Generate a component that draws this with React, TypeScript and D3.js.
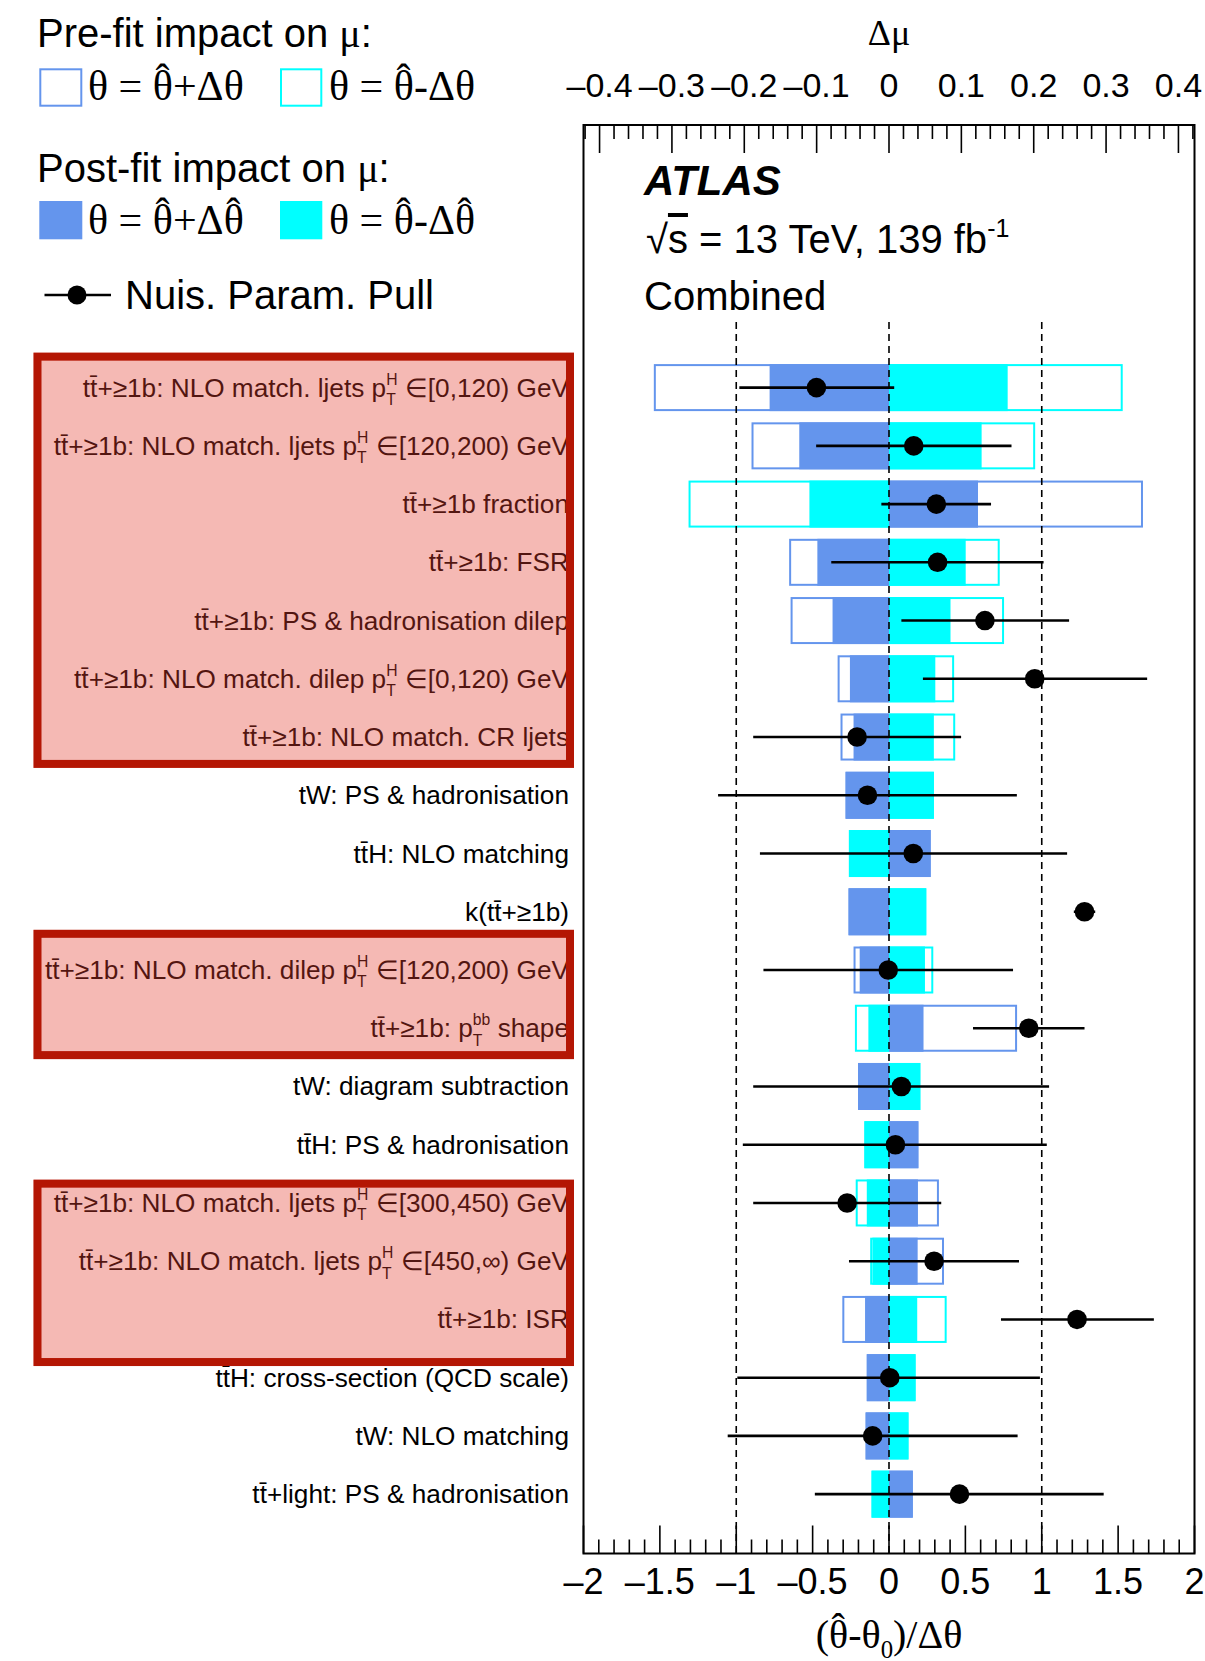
import React from "react";
import * as d3 from "d3";

// ---------------- DATA ----------------
const TT = "tt\u0304";
const params: string[] = [
  `${TT}+≥1b: NLO match. ljets p_{T}^{H} ∈[0,120) GeV`,
  `${TT}+≥1b: NLO match. ljets p_{T}^{H} ∈[120,200) GeV`,
  `${TT}+≥1b fraction`,
  `${TT}+≥1b: FSR`,
  `${TT}+≥1b: PS & hadronisation dilep`,
  `${TT}+≥1b: NLO match. dilep p_{T}^{H} ∈[0,120) GeV`,
  `${TT}+≥1b: NLO match. CR ljets`,
  `tW: PS & hadronisation`,
  `${TT}H: NLO matching`,
  `k(${TT}+≥1b)`,
  `${TT}+≥1b: NLO match. dilep p_{T}^{H} ∈[120,200) GeV`,
  `${TT}+≥1b: p_{T}^{bb} shape`,
  `tW: diagram subtraction`,
  `${TT}H: PS & hadronisation`,
  `${TT}+≥1b: NLO match. ljets p_{T}^{H} ∈[300,450) GeV`,
  `${TT}+≥1b: NLO match. ljets p_{T}^{H} ∈[450,∞) GeV`,
  `${TT}+≥1b: ISR`,
  `${TT}H: cross-section (QCD scale)`,
  `tW: NLO matching`,
  `${TT}+light: PS & hadronisation`,
];

// Pre-fit impact on mu (theta = theta_hat + / - delta theta)
const prefitUp: number[] = [-0.325, -0.19, 0.351, -0.138, -0.136, -0.071, -0.067, -0.06, 0.0576, -0.0559, -0.049, 0.177, -0.0428, 0.0406, 0.069, 0.076, -0.0645, -0.0307, -0.0323, 0.0329];
const prefitDown: number[] = [0.323, 0.202, -0.277, 0.153, 0.159, 0.09, 0.0915, 0.062, -0.0554, 0.0515, 0.0612, -0.0471, 0.0433, -0.034, -0.046, -0.026, 0.0797, 0.0367, 0.0269, -0.0241];
// Post-fit impact on mu
const postfitUp: number[] = [-0.165, -0.124, 0.123, -0.099, -0.078, -0.054, -0.049, -0.06, 0.0576, -0.0559, -0.0405, 0.0477, -0.0428, 0.0406, 0.04, 0.0396, -0.0331, -0.0307, -0.0323, 0.0329];
const postfitDown: number[] = [0.164, 0.128, -0.11, 0.106, 0.085, 0.064, 0.062, 0.062, -0.0554, 0.0515, 0.0497, -0.0285, 0.0433, -0.034, -0.0307, -0.023, 0.039, 0.0367, 0.0269, -0.0241];
// Nuisance parameter pulls
const pulls: number[] = [-0.475, 0.162, 0.31, 0.318, 0.628, 0.954, -0.209, -0.141, 0.159, 1.28, -0.005, 0.915, 0.081, 0.042, -0.274, 0.295, 1.231, 0.005, -0.107, 0.4615];
const pullErrLo: number[] = [0.505, 0.639, 0.36, 0.696, 0.547, 0.732, 0.68, 0.978, 1.004, 0.07, 0.817, 0.365, 0.97, 0.999, 0.615, 0.557, 0.498, 0.998, 0.949, 0.947];
const pullErrHi: number[] = [0.509, 0.64, 0.358, 0.694, 0.551, 0.736, 0.681, 0.978, 1.007, 0.07, 0.817, 0.365, 0.967, 0.991, 0.616, 0.556, 0.503, 0.983, 0.949, 0.944];

// highlighted groups of parameters (in row units)
const highlightFrom: number[] = [-0.6, 9.31, 13.6];
const highlightTo: number[] = [6.53, 11.53, 16.8];

const topTicks: number[] = [-0.4, -0.3, -0.2, -0.1, 0, 0.1, 0.2, 0.3, 0.4];
const bottomTicks: number[] = [-2, -1.5, -1, -0.5, 0, 0.5, 1, 1.5, 2];

// ---------------- LAYOUT ----------------
const W = 1205;
const H = 1661;
const frame = { left: 583.5, right: 1194.5, top: 125, bottom: 1553.5 };
const MU_MAX = 0.4222;
const BLUE = "#6495ED";
const CYAN = "#00FFFF";
const SANS = "'Liberation Sans', Arial, Helvetica, sans-serif";
const SERIF = "'Liberation Serif', 'Times New Roman', serif";

const xPull = d3.scaleLinear().domain([-2, 2]).range([frame.left, frame.right]);
const xMu = d3.scaleLinear().domain([-MU_MAX, MU_MAX]).range([frame.left, frame.right]);
const yRow = d3.scaleLinear().domain([0, params.length - 1]).range([387.6, 387.6 + 19 * 58.24]);
const BOX_H = 47;
const DASH_TOP = 322;

const fmt = (v: number) => d3.format("~g")(Math.round(v * 100) / 100);

const charW: Record<string, number> = { H: 0.722, T: 0.611, b: 0.556 };
const estW = (s: string) => s.split("").reduce((a, c) => a + (charW[c] ?? 0.556), 0);

function RichLabel({ x, y, text, size }: { x: number; y: number; text: string; size: number }) {
  const m = text.match(/p_\{([^}]*)\}\^\{([^}]*)\}/);
  const common = {
    x,
    y,
    textAnchor: "end" as const,
    fontSize: size,
    fontFamily: SANS,
    fill: "#000",
    style: { whiteSpace: "pre" as const },
  };
  if (!m) return <text {...common}>{text}</text>;
  const before = text.slice(0, m.index) + "p";
  const after = text.slice((m.index as number) + m[0].length);
  const sub = m[1];
  const sup = m[2];
  const ss = size * 0.6;
  const supW = estW(sup) * ss;
  const subW = estW(sub) * ss;
  const up = size * 0.45;
  const down = size * 0.32;
  return (
    <text {...common}>
      <tspan>{before}</tspan>
      <tspan fontSize={ss} dy={-up}>{sup}</tspan>
      <tspan fontSize={ss} dx={-supW} dy={up + down}>{sub}</tspan>
      <tspan dx={Math.max(0, supW - subW)} dy={-down}>{after}</tspan>
    </text>
  );
}

// pieces: strings, "HAT" (theta with hat), or {sub: string}
type Piece = string | { sub: string };
function mathSpans(parts: Piece[], size: number) {
  const out: React.ReactNode[] = [];
  let pendDx = 0;
  let pendDy = 0;
  const wT = 0.5 * size;
  const wH = 0.333 * size;
  const lift = 0.17 * size;
  parts.forEach((p, i) => {
    if (p === "HAT") {
      out.push(
        <tspan key={`${i}t`} dx={pendDx} dy={pendDy}>
          θ
        </tspan>
      );
      out.push(
        <tspan key={`${i}h`} dx={-(wT + wH) / 2} dy={-lift}>
          ˆ
        </tspan>
      );
      pendDx = (wT - wH) / 2;
      pendDy = lift;
    } else if (typeof p === "object") {
      const sd = size * 0.24;
      out.push(
        <tspan key={`${i}s`} fontSize={size * 0.62} dx={pendDx} dy={pendDy + sd}>
          {p.sub}
        </tspan>
      );
      pendDx = 0;
      pendDy = -sd;
    } else {
      out.push(
        <tspan key={`${i}`} dx={pendDx} dy={pendDy}>
          {p}
        </tspan>
      );
      pendDx = 0;
      pendDy = 0;
    }
  });
  return out;
}

export default function App() {
  const topMinor = d3.range(-21, 22).map((i) => i * 0.02).filter((v) => Math.abs(v) <= MU_MAX);
  const bottomMinor = d3.range(-20, 21).map((i) => i * 0.1);
  const MAJ = 28;
  const MIN = 14;

  const rowLabelX = 569;
  const labelSize = 26.2;
  const legSize = 42;

  return (
    <svg
      width={W}
      height={H}
      viewBox={`0 0 ${W} ${H}`}
      style={{ position: "absolute", left: 0, top: 0, background: "#fff", display: "block" }}
    >
      <rect x={0} y={0} width={W} height={H} fill="#fff" />

      {/* ---------- Legend ---------- */}
      <text x={37} y={47} fontFamily={SANS} fontSize={40}>
        Pre-fit impact on <tspan fontFamily={SERIF}>μ</tspan>:
      </text>
      <rect x={40.3} y={69.3} width={41} height={36.4} fill="#fff" stroke={BLUE} strokeWidth={2} />
      <text x={88} y={100} fontFamily={SERIF} fontSize={legSize} style={{ whiteSpace: "pre" }}>
        {mathSpans(["θ = ", "HAT", "+Δθ"], legSize)}
      </text>
      <rect x={281} y={69.3} width={40.3} height={36.4} fill="#fff" stroke={CYAN} strokeWidth={2} />
      <text x={329} y={100} fontFamily={SERIF} fontSize={legSize} style={{ whiteSpace: "pre" }}>
        {mathSpans(["θ = ", "HAT", "-Δθ"], legSize)}
      </text>

      <text x={37} y={182} fontFamily={SANS} fontSize={40}>
        Post-fit impact on <tspan fontFamily={SERIF}>μ</tspan>:
      </text>
      <rect x={39.3} y={201} width={43} height={38.3} fill={BLUE} />
      <text x={88} y={234} fontFamily={SERIF} fontSize={legSize} style={{ whiteSpace: "pre" }}>
        {mathSpans(["θ = ", "HAT", "+Δ", "HAT"], legSize)}
      </text>
      <rect x={280} y={201} width={42.3} height={38.3} fill={CYAN} />
      <text x={329} y={234} fontFamily={SERIF} fontSize={legSize} style={{ whiteSpace: "pre" }}>
        {mathSpans(["θ = ", "HAT", "-Δ", "HAT"], legSize)}
      </text>

      <line x1={44.5} x2={111} y1={295} y2={295} stroke="#000" strokeWidth={2.5} />
      <circle cx={77} cy={295} r={9.5} fill="#000" />
      <text x={125} y={309} fontFamily={SANS} fontSize={40}>
        Nuis. Param. Pull
      </text>

      {/* ---------- Top axis (Δμ) ---------- */}
      <text x={xMu(0)} y={45} textAnchor="middle" fontFamily={SERIF} fontSize={36}>
        Δμ
      </text>
      {topTicks.map((t) => (
        <text key={`tl${t}`} x={xMu(t)} y={97} textAnchor="middle" fontFamily={SANS} fontSize={34}>
          {t < 0 ? "\u2013" + fmt(-t) : fmt(t)}
        </text>
      ))}

      {/* ---------- Row labels ---------- */}
      {params.map((p, i) => (
        <RichLabel key={`lab${i}`} x={rowLabelX} y={yRow(i) + 9} text={p} size={labelSize} />
      ))}

      {/* ---------- Highlight boxes ---------- */}
      {highlightFrom.map((f, i) => {
        const top = yRow(f);
        const bot = yRow(highlightTo[i]);
        return (
          <g key={`hl${i}`}>
            <rect x={33.5} y={top} width={574 - 33.5} height={bot - top} fill="rgb(228,61,47)" fillOpacity={0.36} />
            <rect x={37.5} y={top + 4} width={574 - 33.5 - 8} height={bot - top - 8} fill="none" stroke="rgb(180,22,4)" strokeWidth={8} />
          </g>
        );
      })}

      {/* ---------- Pre-fit (hollow) boxes ---------- */}
      {params.map((_, i) => {
        const yc = yRow(i);
        const boxes = [
          { v: prefitUp[i], c: BLUE },
          { v: prefitDown[i], c: CYAN },
        ];
        return boxes.map((b, k) => {
          const x0 = Math.min(xMu(0), xMu(b.v));
          const w = Math.abs(xMu(b.v) - xMu(0));
          return (
            <rect
              key={`pre${i}_${k}`}
              x={x0 + 1}
              y={yc - BOX_H / 2 + 1}
              width={Math.max(0, w - 2)}
              height={BOX_H - 2}
              fill="#fff"
              stroke={b.c}
              strokeWidth={2}
            />
          );
        });
      })}

      {/* ---------- Post-fit (filled) boxes ---------- */}
      {params.map((_, i) => {
        const yc = yRow(i);
        const boxes = [
          { v: postfitUp[i], c: BLUE },
          { v: postfitDown[i], c: CYAN },
        ];
        return boxes.map((b, k) => {
          const x0 = Math.min(xMu(0), xMu(b.v));
          const w = Math.abs(xMu(b.v) - xMu(0));
          return <rect key={`post${i}_${k}`} x={x0} y={yc - BOX_H / 2} width={w} height={BOX_H} fill={b.c} />;
        });
      })}

      {/* ---------- Dashed reference lines ---------- */}
      {[-1, 0, 1].map((v) => (
        <line
          key={`d${v}`}
          x1={xPull(v)}
          x2={xPull(v)}
          y1={DASH_TOP}
          y2={frame.bottom}
          stroke="#000"
          strokeWidth={1.6}
          strokeDasharray="7,5"
        />
      ))}

      {/* ---------- Pulls ---------- */}
      {pulls.map((p, i) => (
        <g key={`pull${i}`}>
          <line
            x1={xPull(p - pullErrLo[i])}
            x2={xPull(p + pullErrHi[i])}
            y1={yRow(i)}
            y2={yRow(i)}
            stroke="#000"
            strokeWidth={2.6}
          />
          <circle cx={xPull(p)} cy={yRow(i)} r={9.8} fill="#000" />
        </g>
      ))}

      {/* ---------- Frame & ticks ---------- */}
      <rect
        x={frame.left}
        y={frame.top}
        width={frame.right - frame.left}
        height={frame.bottom - frame.top}
        fill="none"
        stroke="#000"
        strokeWidth={2}
      />
      {topMinor.map((t, i) => {
        const major = topTicks.some((m) => Math.abs(m - t) < 1e-6);
        return (
          <line
            key={`tt${i}`}
            x1={xMu(t)}
            x2={xMu(t)}
            y1={frame.top}
            y2={frame.top + (major ? MAJ : MIN)}
            stroke="#000"
            strokeWidth={1.6}
          />
        );
      })}
      {bottomMinor.map((t, i) => {
        const major = bottomTicks.some((m) => Math.abs(m - t) < 1e-6);
        return (
          <line
            key={`bt${i}`}
            x1={xPull(t)}
            x2={xPull(t)}
            y1={frame.bottom}
            y2={frame.bottom - (major ? MAJ : MIN)}
            stroke="#000"
            strokeWidth={1.6}
          />
        );
      })}
      {bottomTicks.map((t) => (
        <text key={`bl${t}`} x={xPull(t)} y={1594} textAnchor="middle" fontFamily={SANS} fontSize={36}>
          {t < 0 ? "\u2013" + fmt(-t) : fmt(t)}
        </text>
      ))}
      <text x={xPull(0)} y={1648} textAnchor="middle" fontFamily={SERIF} fontSize={40} style={{ whiteSpace: "pre" }}>
        {mathSpans(["(", "HAT", "-θ", { sub: "0" }, ")/Δθ"], 40)}
      </text>

      {/* ---------- ATLAS label ---------- */}
      <text x={644} y={195} fontFamily={SANS} fontSize={42} fontWeight="bold" fontStyle="italic">
        ATLAS
      </text>
      <text x={646} y={253} fontFamily={SANS} fontSize={40}>
        √<tspan textDecoration="overline">s</tspan> = 13 TeV, 139 fb
        <tspan fontSize={25} dy={-16}>-1</tspan>
      </text>
      <text x={644} y={310} fontFamily={SANS} fontSize={40}>
        Combined
      </text>
    </svg>
  );
}
